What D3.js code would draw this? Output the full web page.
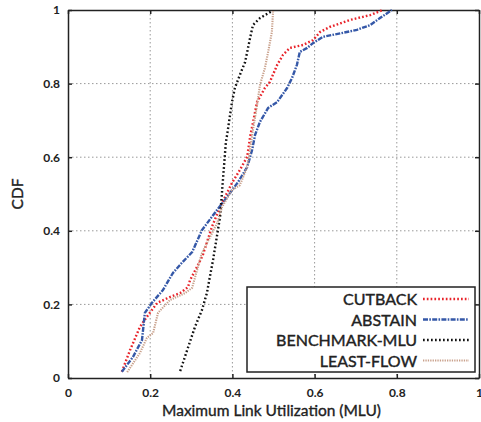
<!DOCTYPE html>
<html>
<head>
<meta charset="utf-8">
<script src="https://cdn.jsdelivr.net/npm/d3@7"></script>
<style>
  body { margin: 0; background: #fff; }
  text { font-family: Lato, "DejaVu Sans", sans-serif; fill: #222; }
</style>
</head>
<body>
<svg id="chart" width="481" height="422"></svg>
<script>
const margin = { top: 10, right: 2, bottom: 44, left: 68 };
const width = 481 - margin.left - margin.right;
const height = 422 - margin.top - margin.bottom;

const xTicks = [0, 0.2, 0.4, 0.6, 0.8, 1];
const yTicks = [0, 0.2, 0.4, 0.6, 0.8, 1];
const seriesNames = ["CUTBACK", "ABSTAIN", "BENCHMARK-MLU", "LEAST-FLOW"];

// [MLU, CDF] pairs
const cutback = [
  [0.131, 0.017], [0.151, 0.076], [0.175, 0.139], [0.195, 0.171], [0.217, 0.204],
  [0.248, 0.220], [0.273, 0.231], [0.292, 0.247], [0.297, 0.266], [0.314, 0.302],
  [0.328, 0.334], [0.350, 0.410], [0.370, 0.465], [0.399, 0.530], [0.418, 0.565],
  [0.436, 0.601], [0.443, 0.655], [0.460, 0.750], [0.479, 0.788], [0.491, 0.804],
  [0.509, 0.851], [0.523, 0.878], [0.540, 0.897], [0.572, 0.905], [0.596, 0.918],
  [0.613, 0.940], [0.637, 0.954], [0.686, 0.973], [0.735, 0.986], [0.766, 1.0]
];
const abstain = [
  [0.131, 0.017], [0.158, 0.057], [0.180, 0.103], [0.187, 0.177], [0.204, 0.204],
  [0.231, 0.239], [0.255, 0.285], [0.277, 0.313], [0.302, 0.342], [0.326, 0.402],
  [0.363, 0.457], [0.387, 0.492], [0.414, 0.533], [0.436, 0.573], [0.448, 0.620],
  [0.455, 0.660], [0.467, 0.696], [0.487, 0.734], [0.509, 0.750], [0.533, 0.788],
  [0.545, 0.815], [0.557, 0.851], [0.564, 0.886], [0.582, 0.897], [0.596, 0.910],
  [0.620, 0.927], [0.669, 0.938], [0.703, 0.946], [0.735, 0.959], [0.759, 0.978],
  [0.788, 1.0]
];
const benchmark = [
  [0.273, 0.019], [0.290, 0.076], [0.309, 0.139], [0.326, 0.185], [0.338, 0.231],
  [0.345, 0.274], [0.353, 0.321], [0.370, 0.438], [0.377, 0.538], [0.384, 0.639],
  [0.387, 0.660], [0.399, 0.750], [0.406, 0.788], [0.418, 0.823], [0.431, 0.859],
  [0.443, 0.924], [0.450, 0.959], [0.467, 0.978], [0.496, 0.997]
];
const leastFlow = [
  [0.144, 0.016], [0.175, 0.068], [0.192, 0.109], [0.207, 0.122], [0.219, 0.177],
  [0.248, 0.212], [0.285, 0.231], [0.302, 0.245], [0.314, 0.293], [0.326, 0.340],
  [0.363, 0.421], [0.375, 0.465], [0.399, 0.511], [0.418, 0.524], [0.436, 0.573],
  [0.443, 0.620], [0.448, 0.660], [0.460, 0.742], [0.467, 0.796], [0.479, 0.842],
  [0.487, 0.886], [0.496, 0.940], [0.499, 0.997]
];

const styles = [
  { data: cutback, color: "#e8232a", width: 2.4, dash: "1.7,2.1" },
  { data: abstain, color: "#3558a8", width: 2.4, dash: "5,1.3,1.6,1.3" },
  { data: benchmark, color: "#111", width: 2.4, dash: "1.7,2.3" },
  { data: leastFlow, color: "#c9a18c", width: 2.1, dash: "1.3,1.1" }
];

const svg = d3.select("#chart")
  .append("g")
  .attr("transform", `translate(${margin.left},${margin.top})`);

const x = d3.scaleLinear().domain([0, 1]).range([0, width]);
const y = d3.scaleLinear().domain([0, 1]).range([height, 0]);

// grid
svg.append("g").selectAll("line")
  .data(xTicks.slice(1, -1)).enter().append("line")
  .attr("x1", d => x(d)).attr("x2", d => x(d))
  .attr("y1", 0).attr("y2", height)
  .attr("stroke", "#999").attr("stroke-width", 1).attr("stroke-dasharray", "1.5,2.5");
svg.append("g").selectAll("line")
  .data(yTicks.slice(1, -1)).enter().append("line")
  .attr("y1", d => y(d)).attr("y2", d => y(d))
  .attr("x1", 0).attr("x2", width)
  .attr("stroke", "#999").attr("stroke-width", 1).attr("stroke-dasharray", "1.5,2.5");

// axes with inward ticks
const xAxis = d3.axisBottom(x).tickValues(xTicks).tickFormat(d3.format("")).tickSizeInner(-4).tickSizeOuter(0).tickPadding(10);
const yAxis = d3.axisLeft(y).tickValues(yTicks).tickFormat(d3.format("")).tickSizeInner(-4).tickSizeOuter(0).tickPadding(8);
const xTop = d3.axisTop(x).tickValues(xTicks).tickFormat("").tickSizeInner(-4).tickSizeOuter(0);
const yRight = d3.axisRight(y).tickValues(yTicks).tickFormat("").tickSizeInner(-4).tickSizeOuter(0);

svg.append("g").attr("transform", `translate(0,${height})`).call(xAxis);
svg.append("g").call(yAxis);
svg.append("g").call(xTop);
svg.append("g").attr("transform", `translate(${width},0)`).call(yRight);

svg.selectAll(".domain").attr("stroke", "#222").attr("stroke-width", 1.5);
svg.selectAll(".tick line").attr("stroke", "#222").attr("stroke-width", 1.5);
svg.selectAll(".tick text").style("font-family", "Lato, sans-serif")
  .style("font-size", "12px").style("font-weight", "bold").attr("fill", "#222");

// curves
const line = d3.line().x(d => x(d[0])).y(d => y(d[1]));
styles.forEach(s => {
  svg.append("path")
    .datum(s.data)
    .attr("fill", "none")
    .attr("stroke", s.color)
    .attr("stroke-width", s.width)
    .attr("stroke-dasharray", s.dash)
    .attr("d", line);
});

// axis titles
svg.append("text")
  .attr("x", width / 2 - 2)
  .attr("y", height + 38)
  .attr("text-anchor", "middle")
  .style("font-size", "15.5px")
  .attr("stroke", "#222").attr("stroke-width", 0.35)
  .text("Maximum Link Utilization (MLU)");

svg.append("text")
  .attr("transform", "rotate(-90)")
  .attr("x", -(y(0.5)))
  .attr("y", -45)
  .attr("text-anchor", "middle")
  .style("font-size", "15.5px")
  .attr("stroke", "#222").attr("stroke-width", 0.35)
  .text("CDF");

// legend
const legend = svg.append("g").attr("transform", `translate(${247 - margin.left},${287 - margin.top})`);
legend.append("rect")
  .attr("width", 228).attr("height", 85)
  .attr("fill", "#fff").attr("stroke", "#222").attr("stroke-width", 1.5);

seriesNames.forEach((name, i) => {
  const cy = 12 + i * 20.5;
  legend.append("text")
    .attr("x", 170)
    .attr("y", cy + 6)
    .attr("text-anchor", "end")
    .style("font-size", "16px")
    .attr("stroke", "#222").attr("stroke-width", 0.4)
    .text(name);
  legend.append("line")
    .attr("x1", 176).attr("x2", 222)
    .attr("y1", cy).attr("y2", cy)
    .attr("stroke", styles[i].color)
    .attr("stroke-width", styles[i].width)
    .attr("stroke-dasharray", styles[i].dash);
});
</script>
</body>
</html>
